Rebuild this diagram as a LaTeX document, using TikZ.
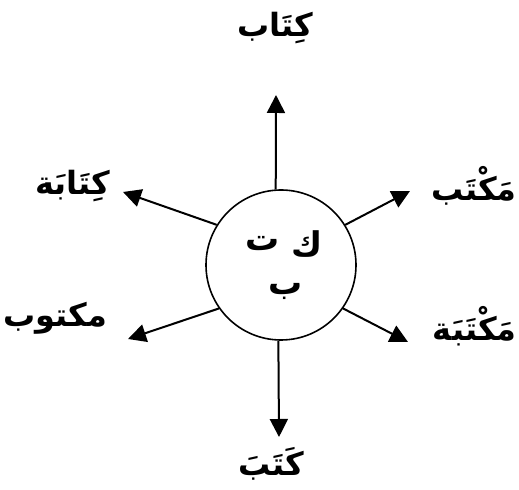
\documentclass[tikz,border=0pt]{standalone}
\usepackage{fontspec}
\usepackage{tikz}
\usetikzlibrary{arrows.meta}
\TeXXeTstate=1
\newfontfamily\arabicfont[Script=Arabic]{DejaVu Sans}
\newcommand{\ar}[1]{\arabicfont\beginR #1\endR}

\begin{document}
\begin{tikzpicture}[
  x=0.5pt, y=-0.5pt,
  rootcircle/.style={draw=black, line width=0.8pt, circle, minimum size=75pt, inner sep=0pt},
  word/.style={font=\fontsize{16}{18}\selectfont\bfseries, inner sep=0pt},
  letter/.style={font=\fontsize{17}{19}\selectfont\bfseries, inner sep=0pt},
  arrow/.style={-{Triangle[length=9pt,width=9pt]}, line width=1pt, black}
]
\useasboundingbox (0,0) rectangle (519,490);

% Root circle
\node[rootcircle] (root) at (281,265) {};
\node[letter] (rootK) at (307,244) {\ar{ك}};
\node[letter] (rootT) at (263,244) {\ar{ت}};
\node[letter] (rootB) at (286,291) {\ar{ب}};

% Derived words
\node[word] (kitab) at (275,28) {\ar{كِتَاب}};
\node[word] (kitaba) at (73,186) {\ar{كِتَابَة}};
\node[word, anchor=east] (maktab) at (517,186) {\ar{مَكْتَب}};
\node[word] (maktub) at (55,318) {\ar{مكتوب}};
\node[word, anchor=east] (maktaba) at (517,326) {\ar{مَكْتَبَة}};
\node[word] (kataba) at (271,464) {\ar{كَتَبَ}};

% Arrow tips
\coordinate (tipUp) at (276,95);
\coordinate (tipUL) at (123,192);
\coordinate (tipUR) at (410,191);
\coordinate (tipLL) at (128,339);
\coordinate (tipLR) at (408,342);
\coordinate (tipDown) at (279,437);

\draw[arrow] (root.94) -- (tipUp);
\draw[arrow] (root.148) -- (tipUL);
\draw[arrow] (root.32) -- (tipUR);
\draw[arrow] (root.215) -- (tipLL);
\draw[arrow] (root.325) -- (tipLR);
\draw[arrow] (root.268) -- (tipDown);

\end{tikzpicture}
\end{document}
